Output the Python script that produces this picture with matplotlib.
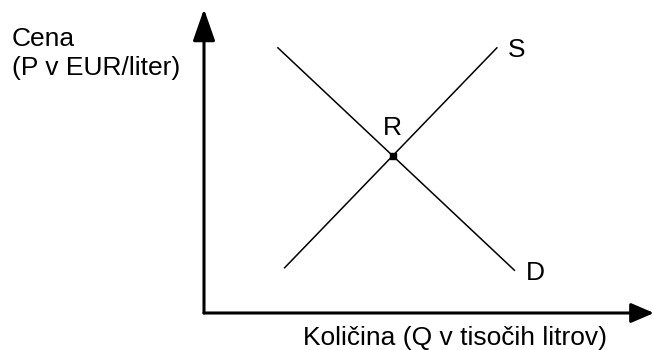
import matplotlib
matplotlib.use("Agg")
import matplotlib.pyplot as plt

plt.rcParams['font.family'] = ['Liberation Sans', 'DejaVu Sans']

# Data (quantity, price) in abstract units
demand_q = [1.63, 6.91]
demand_p = [8.74, 1.39]
supply_q = [1.78, 6.52]
supply_p = [1.47, 8.74]
eq_q = [4.19]
eq_p = [5.16]

y_label_lines = ["Cena", "(P v EUR/liter)"]
x_label = "Količina (Q v tisočih litrov)"
supply_name = "S"
demand_name = "D"
eq_name = "R"

W, H = 654, 350
fig = plt.figure(figsize=(W / 100, H / 100), dpi=100)
ox, oy = 204, 313
ax = fig.add_axes([ox / W, (H - oy) / H, (W - ox) / W, (oy - 9) / H])
ax.set_xlim(0, 10)
ax.set_ylim(0, 10)
ax.axis('off')

# axes arrows
ax.annotate('', xy=(0, 1), xytext=(0, 0), xycoords='axes fraction',
            arrowprops=dict(arrowstyle='-|>,head_length=1.95,head_width=0.68',
                            lw=2.2, color='black', shrinkA=0, shrinkB=0,
                            mutation_scale=10), annotation_clip=False)
ax.annotate('', xy=(1, 0), xytext=(0, 0), xycoords='axes fraction',
            arrowprops=dict(arrowstyle='-|>,head_length=1.4,head_width=0.6',
                            lw=2.2, color='black', shrinkA=0, shrinkB=0,
                            mutation_scale=10), annotation_clip=False)

ax.plot(demand_q, demand_p, color='black', lw=1.1, solid_capstyle='butt')
ax.plot(supply_q, supply_p, color='black', lw=1.1, solid_capstyle='butt')
ax.plot(eq_q, eq_p, 's', color='black', markersize=5)

fs = 19
ax.annotate(supply_name, xy=(supply_q[-1], supply_p[-1]), xytext=(7.7, -7),
            textcoords='offset points', ha='left', va='baseline', fontsize=fs)
ax.annotate(demand_name, xy=(demand_q[-1], demand_p[-1]), xytext=(8, -6.7),
            textcoords='offset points', ha='left', va='baseline', fontsize=fs)
ax.annotate(eq_name, xy=(eq_q[0], eq_p[0]), xytext=(0, 15),
            textcoords='offset points', ha='center', va='baseline', fontsize=fs)

fig.text(12 / W, 1 - 45.5 / H, y_label_lines[0], ha='left', va='baseline', fontsize=fs)
fig.text(12 / W, 1 - 74.5 / H, y_label_lines[1], ha='left', va='baseline', fontsize=fs)
fig.text(303 / W, 1 - 345.5 / H, x_label, ha='left', va='baseline', fontsize=fs)

fig.savefig('out.png', dpi=100)
